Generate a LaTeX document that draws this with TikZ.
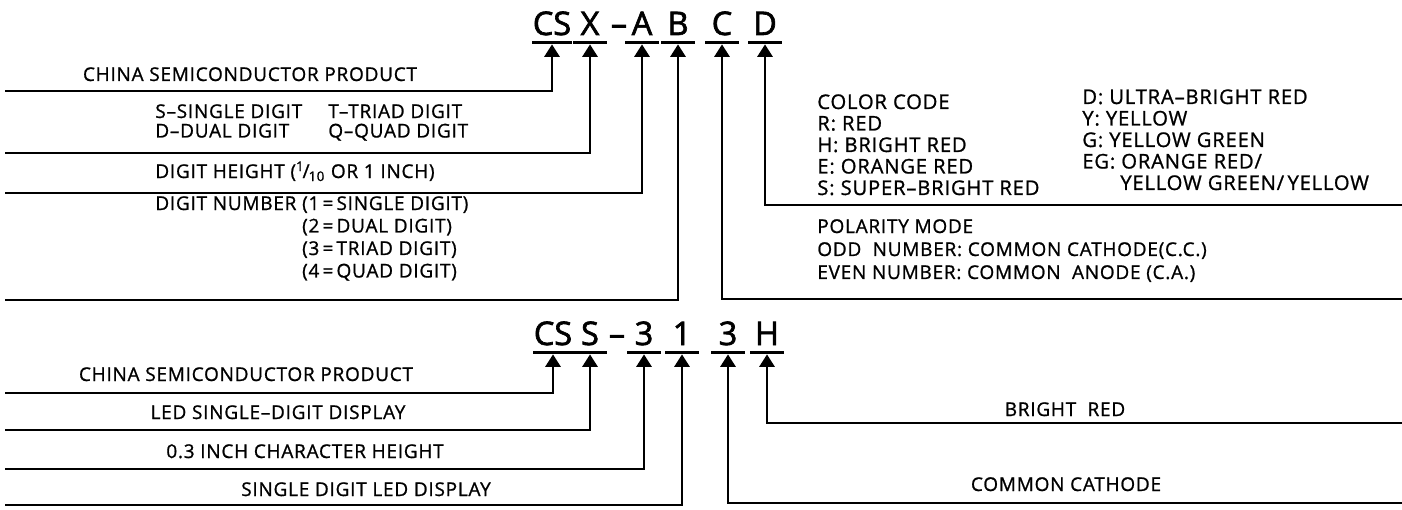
\documentclass[tikz,border=0pt]{standalone}
\usepackage{fontspec}
\setmainfont{Open Sans}
\newfontfamily\labelfont[Ligatures=TeX, LetterSpace=4, FakeBold=1]{Open Sans}
\newfontfamily\codefont[Ligatures=TeX, FakeBold=2]{Open Sans}
\usetikzlibrary{positioning}
\usetikzlibrary{arrows.meta}

\tikzset{
  lbl/.style={font=\labelfont\fontsize{10.8}{13}\selectfont, inner sep=0pt},
  lblwide/.style={lbl, font=\labelfont\fontsize{11.5}{13}\selectfont},
  codeletter/.style={font=\codefont\fontsize{18.5}{20}\selectfont, anchor=base, inner xsep=0pt, inner ysep=0.14cm, text depth=0pt, minimum width=0.66cm},
  leader/.style={line width=1.6pt, -{Triangle[length=0.25cm,width=0.3cm]}, shorten >=0.04cm},
  bar/.style={line width=1.6pt}
}

\begin{document}
\begin{tikzpicture}[x=0.02cm, y=-0.02cm]
\useasboundingbox (0,0) rectangle (1402,510);

% type number CSX-ABCD
\node(cs)[codeletter] at (552,35) {CS};
\node(x)[codeletter] at (590,35) {X};
\node(dash)[codeletter, minimum width=0pt] at (619,35) {--};
\node(a)[codeletter] at (642,35) {A};
\node(b)[codeletter] at (678,35) {B};
\node(c)[codeletter] at (722,35) {C};
\node(d)[codeletter] at (765,35) {D};
\foreach \n in {cs,x,a,b,c,d} \draw[bar] (\n.south west)--(\n.south east);

\node(tcs)[lbl, anchor=base] at (250,81) {CHINA SEMICONDUCTOR PRODUCT};
\node(tx1)[lbl, anchor=base west] at (155,118) {S--SINGLE DIGIT};
\node(tx2)[lbl, below=of tx1.base west, anchor=base west, yshift=.61cm] {D--DUAL DIGIT};
\node(tx3)[lbl, anchor=base west] at (328,118) {T--TRIAD DIGIT};
\node(tx4)[lbl, below=of tx3.base west, anchor=base west, yshift=.61cm] {Q--QUAD DIGIT};
\node(ta)[lbl, anchor=base west] at (155,178) {DIGIT HEIGHT (\textsuperscript{1}\kern-.1em/\kern-.05em\textsubscript{10} OR 1 INCH)};
\node(tb)[lbl, anchor=base west] at (155,210) {DIGIT NUMBER};
\node(tb1)[lbl, right=0.1cm of tb.base east, anchor=base west] {(1\,=\,SINGLE DIGIT)};
\node(tb2)[lbl, below=of tb1.base west, anchor=base west, yshift=.55cm] {(2\,=\,DUAL DIGIT)};
\node(tb3)[lbl, below=of tb2.base west, anchor=base west, yshift=.55cm] {(3\,=\,TRIAD DIGIT)};
\node(tb4)[lbl, below=of tb3.base west, anchor=base west, yshift=.55cm] {(4\,=\,QUAD DIGIT)};

\node(tc0)[lblwide, anchor=base west] at (817,109) {COLOR CODE};
\node(tc1)[lblwide, below=of tc0.base west, anchor=base west, yshift=.57cm] {R: RED};
\node(tc2)[lblwide, below=of tc1.base west, anchor=base west, yshift=.57cm] {H: BRIGHT RED};
\node(tc3)[lblwide, below=of tc2.base west, anchor=base west, yshift=.57cm] {E: ORANGE RED};
\node(tc4)[lblwide, below=of tc3.base west, anchor=base west, yshift=.57cm] {S: SUPER--BRIGHT RED};
\node(td0)[lblwide, anchor=base west] at (1082,104) {D: ULTRA--BRIGHT RED};
\node(td1)[lblwide, below=of td0.base west, anchor=base west, yshift=.57cm] {Y: YELLOW};
\node(td2)[lblwide, below=of td1.base west, anchor=base west, yshift=.57cm] {G: YELLOW GREEN};
\node(td3)[lblwide, below=of td2.base west, anchor=base west, yshift=.57cm] {EG: ORANGE RED/};
\node(td4)[lblwide, below=of td3.base west, anchor=base west, yshift=.57cm, xshift=.76cm] {YELLOW GREEN/\,YELLOW};

\node(tp0)[lbl, anchor=base west] at (817,233) {POLARITY MODE};
\node(tp1)[lbl, below=of tp0.base west, anchor=base west, yshift=.54cm] {ODD\ \ NUMBER: COMMON CATHODE(C.C.)};
\node(tp2)[lbl, below=of tp1.base west, anchor=base west, yshift=.54cm] {EVEN NUMBER: COMMON\ \ ANODE (C.A.)};

\coordinate (lcs) at (5,91);
\coordinate (lx) at (5,153);
\coordinate (la) at (5,193);
\coordinate (lb) at (5,300);
\coordinate (rc) at (1402,299);
\coordinate (rd) at (1402,205);
\draw[leader] (lcs) -| (cs.south);
\draw[leader] (lx) -| (x.south);
\draw[leader] (la) -| (a.south);
\draw[leader] (lb) -| (b.south);
\draw[leader] (rc) -| (c.south);
\draw[leader] (rd) -| (d.south);

% example CSS-313H
\node(ecs)[codeletter] at (553,345) {CS};
\node(es)[codeletter] at (590,345) {S};
\node(edash)[codeletter, minimum width=0pt] at (617,345) {--};
\node(e3)[codeletter] at (644,345) {3};
\node(e1)[codeletter] at (682,345) {1};
\node(e3c)[codeletter] at (728,345) {3};
\node(eh)[codeletter] at (767,345) {H};
\foreach \n in {ecs,es,e3,e1,e3c,eh} \draw[bar] (\n.south west)--(\n.south east);

\node(bl1)[lbl, anchor=base] at (246,381) {CHINA SEMICONDUCTOR PRODUCT};
\node(bl2)[lbl, anchor=base] at (278,419) {LED SINGLE--DIGIT DISPLAY};
\node(bl3)[lbl, anchor=base] at (305,458) {0.3 INCH CHARACTER HEIGHT};
\node(bl4)[lbl, anchor=base] at (366,496) {SINGLE DIGIT LED DISPLAY};
\node(br1)[lbl, anchor=base] at (1065,416) {BRIGHT\ \ RED};
\node(br2)[lbl, anchor=base] at (1066,491) {COMMON CATHODE};

\coordinate (lecs) at (5,393);
\coordinate (les) at (5,430);
\coordinate (le3) at (5,469);
\coordinate (le1) at (5,505);
\coordinate (re3) at (1402,503);
\coordinate (reh) at (1402,423);
\draw[leader] (lecs) -| (ecs.south);
\draw[leader] (les) -| (es.south);
\draw[leader] (le3) -| (e3.south);
\draw[leader] (le1) -| (e1.south);
\draw[leader] (re3) -| (e3c.south);
\draw[leader] (reh) -| (eh.south);
\end{tikzpicture}
\end{document}
